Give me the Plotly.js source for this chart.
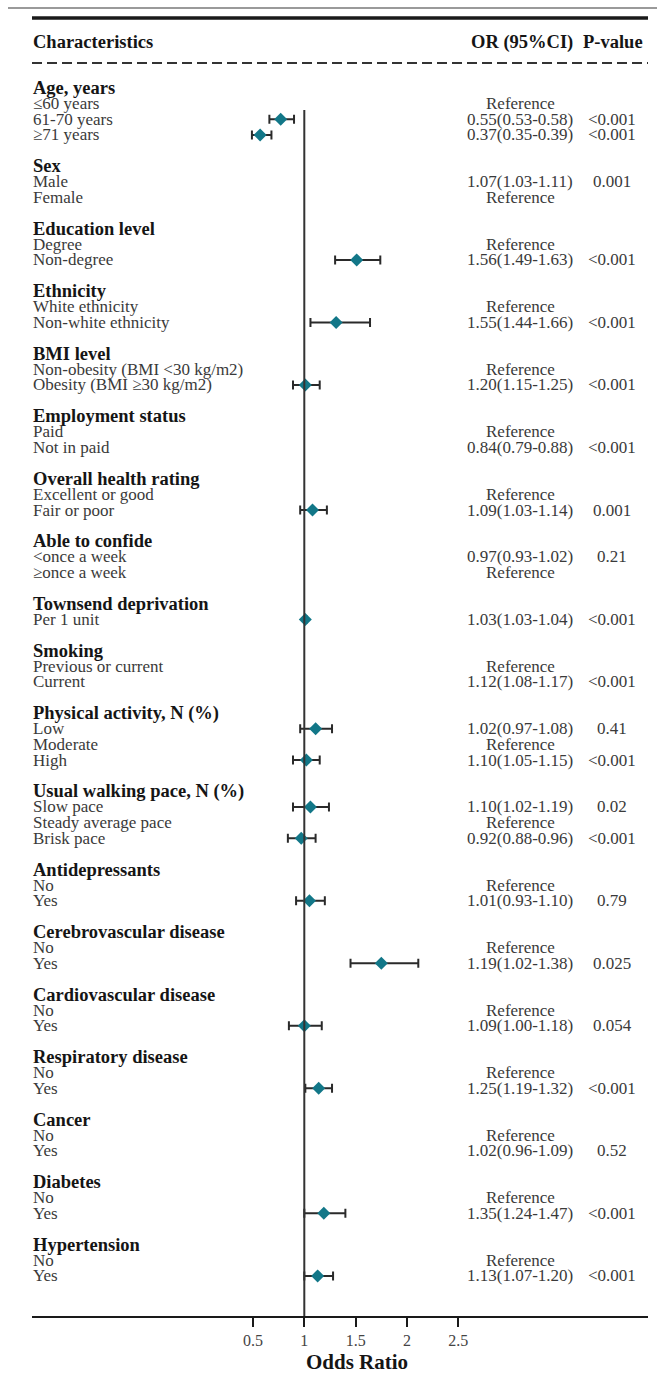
<!DOCTYPE html>
<html>
<head>
<meta charset="utf-8">
<script src="https://cdn.plot.ly/plotly-3.0.1.min.js"></script>
<style>html,body{margin:0;padding:0;background:#fff;}#chart{width:657px;height:1377px;}</style>
</head>
<body>
<div id="chart"></div>
<script>
// ---------------- DATA ----------------
const groupNames = [
  "Age, years", "Sex", "Education level", "Ethnicity", "BMI level",
  "Employment status", "Overall health rating", "Able to confide",
  "Townsend deprivation", "Smoking", "Physical activity, N (%)",
  "Usual walking pace, N (%)", "Antidepressants", "Cerebrovascular disease",
  "Cardiovascular disease", "Respiratory disease", "Cancer", "Diabetes", "Hypertension"
];
const groupItems = [
  ["≤60 years", "61-70 years", "≥71 years"],
  ["Male", "Female"],
  ["Degree", "Non-degree"],
  ["White ethnicity", "Non-white ethnicity"],
  ["Non-obesity (BMI <30 kg/m2)", "Obesity (BMI ≥30 kg/m2)"],
  ["Paid", "Not in paid"],
  ["Excellent or good", "Fair or poor"],
  ["<once a week", "≥once a week"],
  ["Per 1 unit"],
  ["Previous or current", "Current"],
  ["Low", "Moderate", "High"],
  ["Slow pace", "Steady average pace", "Brisk pace"],
  ["No", "Yes"], ["No", "Yes"], ["No", "Yes"], ["No", "Yes"], ["No", "Yes"], ["No", "Yes"], ["No", "Yes"]
];
const orTexts = [
  ["Reference", "0.55(0.53-0.58)", "0.37(0.35-0.39)"],
  ["1.07(1.03-1.11)", "Reference"],
  ["Reference", "1.56(1.49-1.63)"],
  ["Reference", "1.55(1.44-1.66)"],
  ["Reference", "1.20(1.15-1.25)"],
  ["Reference", "0.84(0.79-0.88)"],
  ["Reference", "1.09(1.03-1.14)"],
  ["0.97(0.93-1.02)", "Reference"],
  ["1.03(1.03-1.04)"],
  ["Reference", "1.12(1.08-1.17)"],
  ["1.02(0.97-1.08)", "Reference", "1.10(1.05-1.15)"],
  ["1.10(1.02-1.19)", "Reference", "0.92(0.88-0.96)"],
  ["Reference", "1.01(0.93-1.10)"],
  ["Reference", "1.19(1.02-1.38)"],
  ["Reference", "1.09(1.00-1.18)"],
  ["Reference", "1.25(1.19-1.32)"],
  ["Reference", "1.02(0.96-1.09)"],
  ["Reference", "1.35(1.24-1.47)"],
  ["Reference", "1.13(1.07-1.20)"]
];
const pTexts = [
  ["", "<0.001", "<0.001"],
  ["0.001", ""],
  ["", "<0.001"],
  ["", "<0.001"],
  ["", "<0.001"],
  ["", "<0.001"],
  ["", "0.001"],
  ["0.21", ""],
  ["<0.001"],
  ["", "<0.001"],
  ["0.41", "", "<0.001"],
  ["0.02", "", "<0.001"],
  ["", "0.79"],
  ["", "0.025"],
  ["", "0.054"],
  ["", "<0.001"],
  ["", "0.52"],
  ["", "<0.001"],
  ["", "<0.001"]
];
// plotted markers (as drawn in the figure); null = no marker
const pointEst = [
  [null, 0.77, 0.57], [null, null], [null, 1.51], [null, 1.31], [null, 1.01],
  [null, null], [null, 1.08], [null, null], [1.01], [null, null],
  [1.11, null, 1.02], [1.06, null, 0.97], [null, 1.05], [null, 1.75],
  [null, 1.00], [null, 1.14], [null, null], [null, 1.19], [null, 1.13]
];
const pointLo = [
  [null, 0.66, 0.49], [null, null], [null, 1.30], [null, 1.06], [null, 0.89],
  [null, null], [null, 0.96], [null, null], [1.00], [null, null],
  [0.96, null, 0.89], [0.89, null, 0.84], [null, 0.92], [null, 1.45],
  [null, 0.85], [null, 1.01], [null, null], [null, 1.00], [null, 1.00]
];
const pointHi = [
  [null, 0.90, 0.68], [null, null], [null, 1.74], [null, 1.64], [null, 1.15],
  [null, null], [null, 1.22], [null, null], [1.02], [null, null],
  [1.27, null, 1.15], [1.24, null, 1.11], [null, 1.20], [null, 2.11],
  [null, 1.17], [null, 1.27], [null, null], [null, 1.40], [null, 1.28]
];
const tickVals = [0.5, 1, 1.5, 2, 2.5];
const tickLabels = ["0.5", "1", "1.5", "2", "2.5"];
const headerLabels = ["Characteristics", "OR (95%CI)", "P-value"];
const xTitle = "Odds Ratio";

// ---------------- LAYOUT GEOMETRY ----------------
const W = 657, H = 1377;
const mL = 32, mR = 9, mT = 18, mB = 61;
const plotW = W - mL - mR, plotH = H - mT - mB;
const row0Px = 88, rowStep = 15.63;
const yTop = (mT - row0Px) / rowStep;
const yBot = (H - mB - row0Px) / rowStep;
const pxPerUnit = 102.7, onePx = 304.3;
const xLeft = 1 - (onePx - mL) / pxPerUnit;
const xRight = 1 + (W - mR - onePx) / pxPerUnit;
const pxToPaperX = px => (px - mL) / plotW;
const pxToRow = px => (px - row0Px) / rowStep;

const serif = "Liberation Serif, Times New Roman, serif";
const annotations = [];
const px = [], py = [], eP = [], eM = [];
let r = 0;
groupNames.forEach((g, gi) => {
  annotations.push({x: 0, xref: "paper", xshift: -1, y: r, yref: "y", xanchor: "left", yanchor: "middle",
    text: "<b>" + g + "</b>", showarrow: false, font: {family: serif, size: 18.5, color: "#151515"}});
  r++;
  groupItems[gi].forEach((it, ii) => {
    annotations.push({x: 0, xref: "paper", xshift: -1, y: r, yref: "y", xanchor: "left", yanchor: "middle",
      text: it.replace(/</g, "&lt;"), showarrow: false, font: {family: serif, size: 17, color: "#3a3a3a"}});
    annotations.push({x: pxToPaperX(520), xref: "paper", y: r, yref: "y", xanchor: "center", yanchor: "middle",
      text: orTexts[gi][ii], showarrow: false, font: {family: serif, size: 17, color: "#3a3a3a"}});
    if (pTexts[gi][ii]) {
      annotations.push({x: pxToPaperX(612), xref: "paper", y: r, yref: "y", xanchor: "center", yanchor: "middle",
        text: pTexts[gi][ii].replace(/</g, "&lt;"), showarrow: false, font: {family: serif, size: 17, color: "#3a3a3a"}});
    }
    const e = pointEst[gi][ii];
    if (e !== null) {
      px.push(e); py.push(r);
      eP.push(pointHi[gi][ii] - e); eM.push(e - pointLo[gi][ii]);
    }
    r++;
  });
  r++; // blank row
});

// headers
const hdrRow = pxToRow(42);
annotations.push({x: 0, xref: "paper", xshift: -1, y: hdrRow, yref: "y", xanchor: "left", yanchor: "middle",
  text: "<b>" + headerLabels[0] + "</b>", showarrow: false, font: {family: serif, size: 18.5, color: "#151515"}});
annotations.push({x: pxToPaperX(522), xref: "paper", y: hdrRow, yref: "y", xanchor: "center", yanchor: "middle",
  text: "<b>" + headerLabels[1] + "</b>", showarrow: false, font: {family: serif, size: 18.5, color: "#151515"}});
annotations.push({x: pxToPaperX(613), xref: "paper", y: hdrRow, yref: "y", xanchor: "center", yanchor: "middle",
  text: "<b>" + headerLabels[2] + "</b>", showarrow: false, font: {family: serif, size: 18.5, color: "#151515"}});
annotations.push({x: 1.51, xref: "x", y: 0, yref: "paper", yshift: -46, xanchor: "center", yanchor: "middle",
  text: "<b>" + xTitle + "</b>", showarrow: false, font: {family: serif, size: 21, color: "#151515"}});

const shapes = [
  // page top gray rule
  {type: "line", xref: "paper", yref: "paper", x0: pxToPaperX(8), x1: pxToPaperX(657), y0: 1 + (mT - 8) / plotH, y1: 1 + (mT - 8) / plotH,
    line: {color: "#9a9a9a", width: 2}},
  // thick top rule
  {type: "line", xref: "paper", yref: "paper", x0: 0, x1: 1, y0: 1, y1: 1, line: {color: "#1a1a1a", width: 3.5}},
  // dashed rule below header
  {type: "line", xref: "paper", yref: "y", x0: 0, x1: 1, y0: pxToRow(63), y1: pxToRow(63),
    line: {color: "#333", width: 2, dash: "10px,5px"}},
  // reference line at OR = 1
  {type: "line", xref: "x", yref: "y", x0: 1, x1: 1, y0: pxToRow(110), y1: yBot, line: {color: "#333", width: 2}}
];

const trace = {
  type: "scatter", mode: "markers", x: px, y: py,
  marker: {symbol: "diamond", size: 10, color: "#127788"},
  error_x: {type: "data", symmetric: false, array: eP, arrayminus: eM, color: "#2a2a2a", thickness: 2, width: 4.5},
  hoverinfo: "skip", showlegend: false, cliponaxis: false
};

const layout = {
  width: W, height: H,
  margin: {l: mL, r: mR, t: mT, b: mB, pad: 0},
  paper_bgcolor: "#fff", plot_bgcolor: "#fff",
  showlegend: false,
  xaxis: {range: [xLeft, xRight], showgrid: false, zeroline: false, showline: true, linecolor: "#1a1a1a", linewidth: 2,
    ticks: "outside", ticklen: 9, tickwidth: 2, tickcolor: "#1a1a1a", tickvals: tickVals, ticktext: tickLabels,
    tickfont: {family: serif, size: 16, color: "#444"}, fixedrange: true},
  yaxis: {range: [yBot, yTop], visible: false, showgrid: false, zeroline: false, fixedrange: true},
  shapes: shapes, annotations: annotations
};

Plotly.newPlot("chart", [trace], layout, {displayModeBar: false, staticPlot: true});
</script>
</body>
</html>
